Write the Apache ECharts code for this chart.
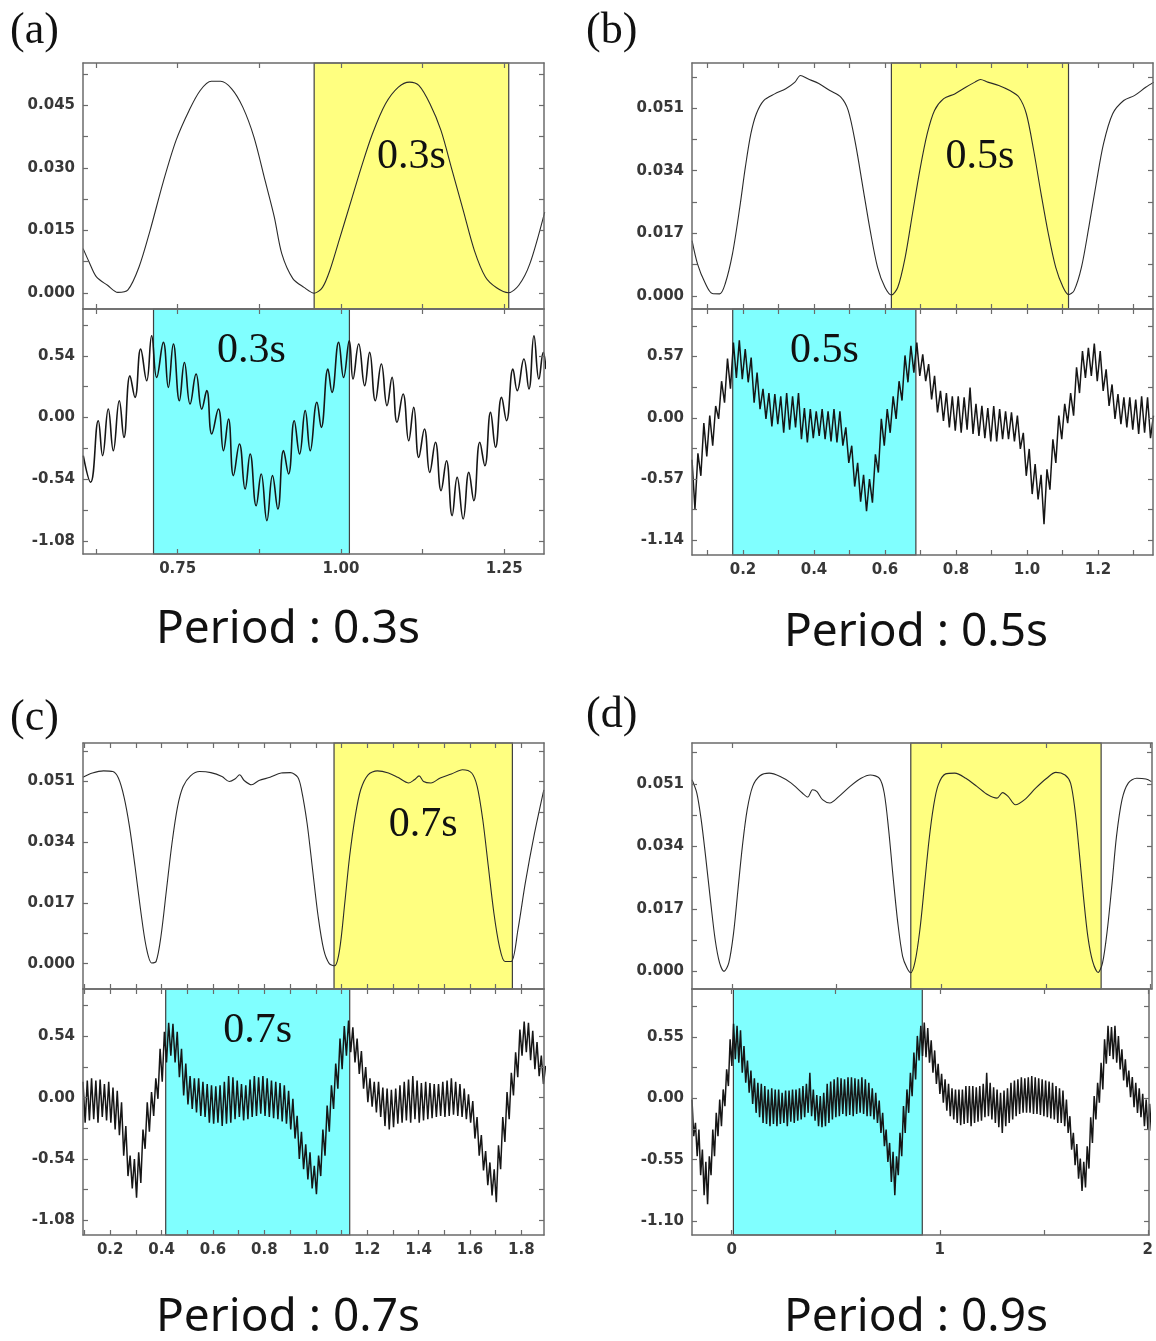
<!DOCTYPE html>
<html><head><meta charset="utf-8">
<script src="https://cdn.jsdelivr.net/npm/echarts@6/dist/echarts.min.js"></script>
<style>html,body{margin:0;padding:0;background:#fff}#c{width:1156px;height:1341px}</style>
</head><body><div id="c"></div>
<script>
// ================= DATA =================
// sampling step for the densely sampled bottom traces (s)
const sampleStep = 1 / 120;

// ---- (a) Period 0.3 s ----
const aTopX = [0.6052,0.6143,0.6256,0.6426,0.6584,0.6738,0.6908,0.7078,0.7278,0.7475,0.7675,0.7845,0.8015,0.8157,0.8327,0.8497,0.8668,0.8838,0.8980,0.9094,0.9264,0.9434,0.9592,0.9718,0.9831,0.9972,1.0143,1.0313,1.0483,1.0683,1.0880,1.1051,1.1193,1.1363,1.1532,1.1703,1.1873,1.2043,1.2213,1.2384,1.2566,1.2724,1.2894,1.3121];
const aTopY = [0.0106,0.0074,0.0038,0.0018,0.0001,0.0007,0.0062,0.0150,0.0266,0.0366,0.0438,0.0486,0.0508,0.0508,0.0490,0.0446,0.0374,0.0270,0.0182,0.0094,0.0034,0.0013,-0.0001,0.0013,0.0054,0.0126,0.0214,0.0302,0.0382,0.0454,0.0494,0.0506,0.0498,0.0454,0.0390,0.0294,0.0198,0.0102,0.0038,0.0012,0.0000,0.0018,0.0070,0.0194];
const aBotX = [0.6054,0.6166,0.6284,0.6350,0.6437,0.6514,0.6606,0.6677,0.6769,0.6846,0.6933,0.7025,0.7102,0.7178,0.7281,0.7357,0.7434,0.7526,0.7603,0.7690,0.7782,0.7869,0.7945,0.8022,0.8124,0.8201,0.8278,0.8354,0.8446,0.8533,0.8610,0.8702,0.8779,0.8866,0.8952,0.9034,0.9121,0.9198,0.9285,0.9367,0.9453,0.9530,0.9632,0.9699,0.9801,0.9863,0.9965,1.0041,1.0128,1.0185,1.0272,1.0364,1.0440,1.0527,1.0619,1.0706,1.0783,1.0859,1.0952,1.1038,1.1115,1.1192,1.1279,1.1360,1.1447,1.1534,1.1616,1.1703,1.1780,1.1872,1.1959,1.2035,1.2127,1.2204,1.2291,1.2368,1.2460,1.2536,1.2634,1.2700,1.2802,1.2879,1.2956,1.3032,1.3099,1.3140];
const aBotY = [-0.334,-0.567,-0.028,-0.334,0.074,-0.290,0.147,-0.174,0.366,0.176,0.599,0.322,0.716,0.351,0.658,0.264,0.643,0.147,0.482,0.118,0.381,0.074,0.235,-0.144,0.074,-0.290,-0.013,-0.509,-0.232,-0.626,-0.319,-0.772,-0.494,-0.903,-0.509,-0.801,-0.290,-0.494,-0.028,-0.319,0.060,-0.290,0.133,-0.086,0.424,0.220,0.658,0.351,0.672,0.337,0.643,0.279,0.570,0.147,0.468,0.104,0.351,-0.042,0.206,-0.203,0.089,-0.349,-0.101,-0.480,-0.217,-0.640,-0.378,-0.859,-0.524,-0.888,-0.480,-0.728,-0.217,-0.422,0.045,-0.261,0.176,-0.028,0.424,0.235,0.512,0.249,0.716,0.337,0.570,0.424];
const aYellow = [0.959, 1.257];
const aCyan = [0.713, 1.013];
const aNote = '0.3s';
const aCaption = 'Period : 0.3s';
const aXRange = [0.605, 1.311];
const aXTicks = [0.625,0.75,0.875,1.0,1.125,1.25];
const aXLabels = [0.75,1.0,1.25];
const aTopRange = [-0.0039, 0.0552];
const aTopTicks = [0,0.0075,0.015,0.0225,0.03,0.0375,0.045,0.0525];
const aTopLabels = [0,0.015,0.03,0.045];
const aBotRange = [-1.195, 0.95];
const aBotTicks = [-1.08,-0.81,-0.54,-0.27,0,0.27,0.54,0.81];
const aBotLabels = [-1.08,-0.54,0,0.54];

// ---- (b) Period 0.5 s ----
const bTopX = [0.0565,0.0720,0.0927,0.1134,0.1341,0.1496,0.1703,0.1910,0.2065,0.2220,0.2376,0.2583,0.2893,0.3204,0.3463,0.3618,0.3825,0.4135,0.4446,0.4756,0.4963,0.5170,0.5377,0.5584,0.5791,0.5998,0.6184,0.6360,0.6567,0.6774,0.6981,0.7188,0.7395,0.7654,0.7964,0.8275,0.8533,0.8688,0.8895,0.9206,0.9516,0.9775,0.9982,1.0189,1.0396,1.0603,1.0810,1.1017,1.1172,1.1327,1.1534,1.1741,1.1948,1.2155,1.2414,1.2725,1.3035,1.3345,1.3573];
const bTopY = [0.0150,0.0086,0.0036,0.0006,0.0005,0.0032,0.0114,0.0241,0.0349,0.0440,0.0495,0.0531,0.0549,0.0563,0.0581,0.0599,0.0590,0.0577,0.0558,0.0540,0.0504,0.0413,0.0295,0.0177,0.0077,0.0023,0.0002,0.0023,0.0104,0.0223,0.0341,0.0440,0.0504,0.0536,0.0549,0.0567,0.0581,0.0588,0.0581,0.0572,0.0558,0.0540,0.0495,0.0395,0.0278,0.0168,0.0077,0.0023,0.0003,0.0014,0.0077,0.0186,0.0304,0.0413,0.0495,0.0531,0.0545,0.0567,0.0581];
const bBotStart = 0.0563;
const bBotY = [-0.39,-0.85,-0.33,-0.54,-0.05,-0.36,0.02,-0.26,0.11,-0.01,
0.34,0.14,0.55,0.27,0.70,0.37,0.72,0.36,0.64,0.33,
0.56,0.14,0.42,0.08,0.27,-0.01,0.23,-0.08,0.22,-0.06,
0.20,-0.14,0.23,-0.11,0.20,-0.09,0.23,-0.20,0.09,-0.23,
0.08,-0.19,0.06,-0.17,0.08,-0.20,0.06,-0.22,0.08,-0.23,
0.06,-0.26,-0.09,-0.42,-0.26,-0.64,-0.42,-0.78,-0.53,-0.87,
-0.57,-0.79,-0.34,-0.51,-0.01,-0.26,0.08,-0.14,0.20,-0.01,
0.34,0.16,0.58,0.33,0.67,0.42,0.70,0.39,0.59,0.34,
0.50,0.17,0.39,0.05,0.25,-0.03,0.23,-0.09,0.20,-0.12,
0.20,-0.14,0.19,-0.11,0.28,-0.15,0.13,-0.17,0.11,-0.19,
0.09,-0.22,0.11,-0.22,0.08,-0.20,0.06,-0.20,0.05,-0.22,
0.02,-0.29,-0.14,-0.54,-0.29,-0.71,-0.43,-0.76,-0.53,-0.99,
-0.48,-0.67,-0.20,-0.42,0.02,-0.20,0.13,-0.05,0.23,0.02,
0.47,0.23,0.62,0.37,0.65,0.39,0.69,0.34,0.62,0.25,
0.45,0.11,0.31,-0.01,0.22,-0.06,0.19,-0.09,0.19,-0.11,
0.17,-0.15,0.20,-0.14,0.19,-0.19,0.02];
const bYellow = [0.618, 1.117];
const bCyan = [0.171, 0.687];
const bNote = '0.5s';
const bCaption = 'Period : 0.5s';
const bXRange = [0.0563, 1.355];
const bXTicks = [0.1,0.2,0.3,0.4,0.5,0.6,0.7,0.8,0.9,1.0,1.1,1.2,1.3];
const bXLabels = [0.2,0.4,0.6,0.8,1.0,1.2];
const bTopRange = [-0.0036, 0.0633];
const bTopTicks = [0,0.0085,0.017,0.0255,0.034,0.0425,0.051,0.0595];
const bTopLabels = [0,0.017,0.034,0.051];
const bBotRange = [-1.277, 1.012];
const bBotTicks = [-1.14,-0.855,-0.57,-0.285,0,0.285,0.57,0.855];
const bBotLabels = [-1.14,-0.57,0,0.57];

// ---- (c) Period 0.7 s ----
const cTopX = [0.0937,0.1311,0.1743,0.2103,0.2319,0.2535,0.2751,0.2967,0.3182,0.3398,
0.3614,0.3787,0.3974,0.4190,0.4406,0.4622,0.4838,0.5126,0.5486,0.5918,
0.6349,0.6637,0.6853,0.7040,0.7213,0.7501,0.7789,0.8221,0.8653,0.9012,
0.9300,0.9444,0.9660,0.9876,1.0092,1.0308,1.0524,1.0740,1.0927,1.1128,
1.1316,1.1532,1.1747,1.2035,1.2395,1.2827,1.3187,1.3619,1.3835,1.4022,
1.4195,1.4482,1.4842,1.5274,1.5706,1.6066,1.6282,1.6498,1.6714,1.6930,
1.7146,1.7362,1.7606,1.7866,1.8153,1.8513,1.8873];
const cTopY = [0.0522,0.0534,0.0540,0.0538,0.0520,0.0468,0.0384,0.0272,0.0151,0.0048,
0.0002,0.0006,0.0076,0.0207,0.0338,0.0440,0.0496,0.0526,0.0538,0.0535,
0.0524,0.0510,0.0517,0.0529,0.0513,0.0501,0.0513,0.0522,0.0534,0.0535,
0.0522,0.0487,0.0394,0.0263,0.0132,0.0039,0.0000,-0.0006,0.0039,0.0170,
0.0300,0.0412,0.0487,0.0529,0.0540,0.0534,0.0522,0.0506,0.0515,0.0526,
0.0510,0.0506,0.0520,0.0531,0.0543,0.0534,0.0496,0.0403,0.0272,0.0142,
0.0048,0.0006,0.0006,0.0095,0.0226,0.0366,0.0487];
const cBotStart = 0.0942;
const cBotY = [0.14,-0.22,0.15,-0.20,0.17,-0.19,0.15,-0.22,0.16,-0.17,
0.12,-0.20,0.14,-0.22,0.09,-0.28,0.06,-0.33,-0.04,-0.51,
-0.25,-0.69,-0.51,-0.80,-0.54,-0.88,-0.48,-0.75,-0.28,-0.45,
-0.04,-0.30,0.05,-0.16,0.17,-0.01,0.43,0.14,0.58,0.31,
0.66,0.37,0.65,0.31,0.58,0.18,0.43,0.02,0.30,-0.06,
0.19,-0.10,0.17,-0.13,0.17,-0.16,0.14,-0.17,0.12,-0.22,
0.11,-0.23,0.10,-0.22,0.11,-0.25,0.14,-0.23,0.19,-0.22,
0.18,-0.19,0.15,-0.17,0.12,-0.20,0.11,-0.19,0.16,-0.17,
0.19,-0.16,0.18,-0.14,0.19,-0.16,0.17,-0.17,0.15,-0.18,
0.14,-0.19,0.13,-0.21,0.11,-0.23,0.06,-0.28,-0.01,-0.36,
-0.16,-0.54,-0.30,-0.63,-0.41,-0.72,-0.48,-0.80,-0.60,-0.85,
-0.51,-0.69,-0.28,-0.51,-0.07,-0.30,0.11,-0.10,0.30,0.08,
0.52,0.25,0.63,0.37,0.68,0.40,0.62,0.31,0.52,0.21,
0.41,0.08,0.27,-0.04,0.17,-0.08,0.14,-0.13,0.14,-0.17,
0.09,-0.25,0.08,-0.28,0.07,-0.26,0.08,-0.23,0.11,-0.22,
0.14,-0.20,0.16,-0.22,0.19,-0.19,0.15,-0.22,0.13,-0.20,
0.14,-0.19,0.13,-0.18,0.12,-0.17,0.12,-0.16,0.14,-0.17,
0.15,-0.16,0.17,-0.15,0.14,-0.16,0.12,-0.17,0.08,-0.19,
0.03,-0.22,-0.03,-0.36,-0.17,-0.51,-0.33,-0.64,-0.47,-0.77,
-0.57,-0.86,-0.63,-0.92,-0.42,-0.63,-0.17,-0.39,0.05,-0.19,
0.22,0.02,0.40,0.18,0.60,0.37,0.67,0.40,0.66,0.33,
0.59,0.25,0.49,0.19,0.37,0.12,0.28];
const cYellow = [1.071, 1.765];
const cCyan = [0.416, 1.132];
const cNote = '0.7s';
const cCaption = 'Period : 0.7s';
const cXRange = [0.0942, 1.888];
const cXTicks = [0.1,0.2,0.3,0.4,0.5,0.6,0.7,0.8,0.9,1.0,1.1,1.2,1.3,1.4,1.5,1.6,1.7,1.8];
const cXLabels = [0.2,0.4,0.6,0.8,1.0,1.2,1.4,1.6,1.8];
const cTopRange = [-0.0071, 0.0618];
const cTopTicks = [0,0.0085,0.017,0.0255,0.034,0.0425,0.051,0.0595];
const cTopLabels = [0,0.017,0.034,0.051];
const cBotRange = [-1.209, 0.957];
const cBotTicks = [-1.08,-0.81,-0.54,-0.27,0,0.27,0.54,0.81];
const cBotLabels = [-1.08,-0.54,0,0.54];

// ---- (d) Period 0.9 s ----
const dTopX = [-0.1909,-0.1680,-0.1470,-0.1259,-0.1031,-0.0803,-0.0592,-0.0382,-0.0153,0.0075,
0.0285,0.0496,0.0724,0.0988,0.1338,0.1777,0.2304,0.2830,0.3357,0.3620,
0.3848,0.4059,0.4322,0.4674,0.5112,0.5639,0.6165,0.6604,0.7043,0.7271,
0.7482,0.7692,0.7921,0.8149,0.8360,0.8536,0.8746,0.8974,0.9202,0.9413,
0.9624,0.9851,1.0203,1.0641,1.1168,1.1695,1.2221,1.2660,1.2923,1.3186,
1.3538,1.3977,1.4503,1.5030,1.5468,1.5907,1.6171,1.6381,1.6574,1.6785,
1.6995,1.7224,1.7487,1.7698,1.7926,1.8154,1.8364,1.8628,1.8926,1.9330,
1.9769,2.0032];
const dTopY = [0.0521,0.0485,0.0412,0.0312,0.0195,0.0086,0.0023,0.0000,0.0023,0.0104,
0.0222,0.0340,0.0439,0.0503,0.0532,0.0539,0.0530,0.0512,0.0485,0.0474,
0.0494,0.0489,0.0467,0.0458,0.0476,0.0503,0.0525,0.0534,0.0525,0.0485,
0.0385,0.0258,0.0131,0.0041,0.0009,-0.0004,0.0027,0.0113,0.0240,0.0358,
0.0448,0.0507,0.0537,0.0539,0.0525,0.0503,0.0480,0.0471,0.0486,0.0476,
0.0453,0.0467,0.0498,0.0525,0.0541,0.0534,0.0512,0.0439,0.0331,0.0204,
0.0095,0.0027,-0.0003,0.0023,0.0113,0.0240,0.0367,0.0467,0.0512,0.0525,
0.0523,0.0516];
const dBotStart = -0.1911;
const dBotY = [-0.01,-0.34,-0.22,-0.52,-0.28,-0.69,-0.46,-0.87,-0.57,-0.95,
-0.52,-0.69,-0.28,-0.52,-0.13,-0.34,-0.01,-0.25,0.08,-0.07,
0.26,0.11,0.53,0.29,0.67,0.35,0.65,0.32,0.61,0.23,
0.47,0.14,0.34,0.05,0.25,-0.05,0.18,-0.13,0.14,-0.17,
0.13,-0.22,0.11,-0.23,0.08,-0.25,0.09,-0.23,0.08,-0.25,
0.08,-0.23,0.05,-0.22,0.07,-0.25,0.07,-0.21,0.08,-0.22,
0.08,-0.20,0.09,-0.19,0.11,-0.17,0.13,-0.13,0.23,-0.16,
0.08,-0.20,0.03,-0.25,0.02,-0.26,0.05,-0.25,0.13,-0.22,
0.15,-0.19,0.17,-0.17,0.19,-0.16,0.18,-0.14,0.17,-0.16,
0.19,-0.15,0.19,-0.16,0.18,-0.14,0.17,-0.13,0.19,-0.14,
0.17,-0.16,0.14,-0.16,0.09,-0.19,0.05,-0.22,-0.02,-0.31,
-0.13,-0.43,-0.28,-0.57,-0.40,-0.75,-0.48,-0.87,-0.52,-0.69,
-0.31,-0.52,-0.07,-0.31,0.08,-0.13,0.23,0.02,0.41,0.17,
0.56,0.34,0.65,0.38,0.68,0.37,0.63,0.32,0.52,0.23,
0.43,0.13,0.31,0.04,0.22,-0.04,0.17,-0.11,0.13,-0.16,
0.09,-0.19,0.08,-0.22,0.08,-0.24,0.08,-0.23,0.11,-0.22,
0.11,-0.25,0.11,-0.22,0.10,-0.21,0.11,-0.20,0.13,-0.17,
0.23,-0.16,0.14,-0.19,0.10,-0.22,0.08,-0.26,0.05,-0.31,
0.07,-0.25,0.09,-0.22,0.14,-0.19,0.16,-0.16,0.17,-0.14,
0.19,-0.13,0.18,-0.13,0.19,-0.13,0.20,-0.14,0.19,-0.14,
0.18,-0.15,0.17,-0.16,0.16,-0.17,0.15,-0.18,0.14,-0.19,
0.11,-0.22,0.09,-0.22,0.07,-0.25,-0.01,-0.31,-0.16,-0.46,
-0.31,-0.60,-0.41,-0.72,-0.54,-0.83,-0.57,-0.80,-0.43,-0.63,
-0.17,-0.40,0.02,-0.19,0.14,-0.04,0.32,0.08,0.53,0.31,
0.65,0.38,0.64,0.35,0.65,0.32,0.56,0.26,0.44,0.16,
0.35,0.10,0.25,0.01,0.19,-0.08,0.14,-0.13,0.09,-0.17,
0.04,-0.25,-0.01,-0.28,-0.05,-0.29];
const dYellow = [0.854, 1.763];
const dCyan = [0.008, 0.916];
const dNote = '';
const dCaption = 'Period : 0.9s';
const dXRange = [-0.191, 2.006];
const dXTicks = [0,0.5,1,1.5,2];
const dXLabels = [0,1,2];
const dTopRange = [-0.0048, 0.0621];
const dTopTicks = [0,0.0085,0.017,0.0255,0.034,0.0425,0.051,0.0595];
const dTopLabels = [0,0.017,0.034,0.051];
const dBotRange = [-1.226, 0.981];
const dBotTicks = [-1.10,-0.825,-0.55,-0.275,0,0.275,0.55,0.825];
const dBotLabels = [-1.10,-0.55,0,0.55];

// ================= BUILD =================
const zip = (xs, ys) => xs.map((x, i) => [x, ys[i]]);
const sampled = (start, ys) => ys.map((y, i) => [start + i * sampleStep, y]);

const FRAME = '#6b6b6b';
const LABEL = { color: '#383838', fontFamily: 'DejaVu Sans', fontWeight: 'bold', fontSize: 15 };

function axis(dim, gi, range, ticks, labels, dec, showLabel, pos) {
  return {
    type: 'value', gridIndex: gi, position: pos, min: range[0], max: range[1], z: 6,
    axisLine: { show: true, onZero: false, lineStyle: { color: FRAME, width: 1.5 } },
    axisTick: { show: true, inside: true, length: 5, customValues: ticks, lineStyle: { color: FRAME, width: 1.2 } },
    axisLabel: Object.assign({ show: showLabel, customValues: labels, margin: 8,
      formatter: v => Number(v).toFixed(dec) }, LABEL),
    splitLine: { show: false }
  };
}

const option = { animation: false, backgroundColor: '#fff', grid: [], xAxis: [], yAxis: [], series: [], graphic: [] };

function addPanel(p) {
  const parts = [
    { top: p.tops[0], h: p.heights[0], range: p.topRange, ticks: p.topTicks, labels: p.topLabels, dec: p.topDec,
      data: p.topData, area: p.yellow, color: '#FFFF80', dist: p.topNoteDist, smooth: 0.3, lw: 1.1, lc: '#2a2a2a' },
    { top: p.tops[1], h: p.heights[1], range: p.botRange, ticks: p.botTicks, labels: p.botLabels, dec: 2,
      data: p.botData, area: p.cyan, color: '#80FFFF', dist: 22, smooth: p.botSmooth, lw: p.botLw, lc: '#161616' }
  ];
  parts.forEach((q, k) => {
    const gi = option.grid.length;
    option.grid.push({ left: p.left, top: q.top, width: p.width, height: q.h });
    const xi = option.xAxis.length;
    option.xAxis.push(axis('x', gi, p.xRange, p.xTicks, p.xLabels, p.xDec, k === 1, 'bottom'));
    option.xAxis.push(axis('x', gi, p.xRange, p.xTicks, p.xLabels, p.xDec, false, 'top'));
    const yi = option.yAxis.length;
    option.yAxis.push(axis('y', gi, q.range, q.ticks, q.labels, q.dec, true, 'left'));
    option.yAxis.push(axis('y', gi, q.range, q.ticks, q.labels, q.dec, false, 'right'));
    option.series.push({
      type: 'line', xAxisIndex: xi, yAxisIndex: yi, data: [], z: 1, silent: true,
      markArea: {
        silent: true,
        itemStyle: { color: q.color, borderColor: '#404040', borderWidth: 1.2 },
        label: { show: !!p.note, position: 'insideTop', distance: q.dist, formatter: p.note,
          fontFamily: 'Liberation Serif', fontSize: 42, color: '#111' },
        data: [[{ xAxis: q.area[0] }, { xAxis: q.area[1] }]]
      }
    });
    option.series.push({
      type: 'line', xAxisIndex: xi, yAxisIndex: yi, data: q.data, z: 3, silent: true,
      symbol: 'none', showSymbol: false, smooth: q.smooth, clip: true,
      lineStyle: { color: q.lc, width: q.lw }
    });
  });
  option.graphic.push({ type: 'text', x: p.letterX, y: p.letterY,
    style: { text: p.letter, font: '44px "Liberation Serif"', fill: '#111', align: 'left', verticalAlign: 'middle',
      textAlign: 'left', textVerticalAlign: 'middle' } });
  option.graphic.push({ type: 'text', x: p.capX, y: p.capY,
    style: { text: p.caption, font: '46px "Noto Sans"', fill: '#111', align: 'center', verticalAlign: 'middle',
      textAlign: 'center', textVerticalAlign: 'middle' } });
}

addPanel({ letter: '(a)', letterX: 10, letterY: 31, caption: aCaption, capX: 288, capY: 630, note: aNote,
  left: 83, width: 461, tops: [63, 309], heights: [246, 245],
  xRange: aXRange, xTicks: aXTicks, xLabels: aXLabels, xDec: 2,
  topRange: aTopRange, topTicks: aTopTicks, topLabels: aTopLabels, topDec: 3, topData: zip(aTopX, aTopY),
  botRange: aBotRange, botTicks: aBotTicks, botLabels: aBotLabels, botData: zip(aBotX, aBotY),
  yellow: aYellow, cyan: aCyan, topNoteDist: 74, botSmooth: 0.45, botLw: 1.6 });

addPanel({ letter: '(b)', letterX: 586, letterY: 31, caption: bCaption, capX: 916, capY: 633, note: bNote,
  left: 692, width: 461, tops: [63, 309], heights: [246, 246],
  xRange: bXRange, xTicks: bXTicks, xLabels: bXLabels, xDec: 1,
  topRange: bTopRange, topTicks: bTopTicks, topLabels: bTopLabels, topDec: 3, topData: zip(bTopX, bTopY),
  botRange: bBotRange, botTicks: bBotTicks, botLabels: bBotLabels, botData: sampled(bBotStart, bBotY),
  yellow: bYellow, cyan: bCyan, topNoteDist: 74, botSmooth: false, botLw: 1.5 });

addPanel({ letter: '(c)', letterX: 10, letterY: 718, caption: cCaption, capX: 288, capY: 1318, note: cNote,
  left: 83, width: 461, tops: [743, 989], heights: [246, 246],
  xRange: cXRange, xTicks: cXTicks, xLabels: cXLabels, xDec: 1,
  topRange: cTopRange, topTicks: cTopTicks, topLabels: cTopLabels, topDec: 3, topData: zip(cTopX, cTopY),
  botRange: cBotRange, botTicks: cBotTicks, botLabels: cBotLabels, botData: sampled(cBotStart, cBotY),
  yellow: cYellow, cyan: cCyan, topNoteDist: 62, botSmooth: false, botLw: 1.5 });

addPanel({ letter: '(d)', letterX: 586, letterY: 715, caption: dCaption, capX: 916, capY: 1318, note: dNote,
  left: 692, width: 460, tops: [743, 989], heights: [246, 246],
  xRange: dXRange, xTicks: dXTicks, xLabels: dXLabels, xDec: 0,
  topRange: dTopRange, topTicks: dTopTicks, topLabels: dTopLabels, topDec: 3, topData: zip(dTopX, dTopY),
  botRange: dBotRange, botTicks: dBotTicks, botLabels: dBotLabels, botData: sampled(dBotStart, dBotY),
  yellow: dYellow, cyan: dCyan, topNoteDist: 62, botSmooth: false, botLw: 1.5 });

const chart = echarts.init(document.getElementById('c'), null, { renderer: 'canvas' });
chart.setOption(option);
</script>
</body></html>
